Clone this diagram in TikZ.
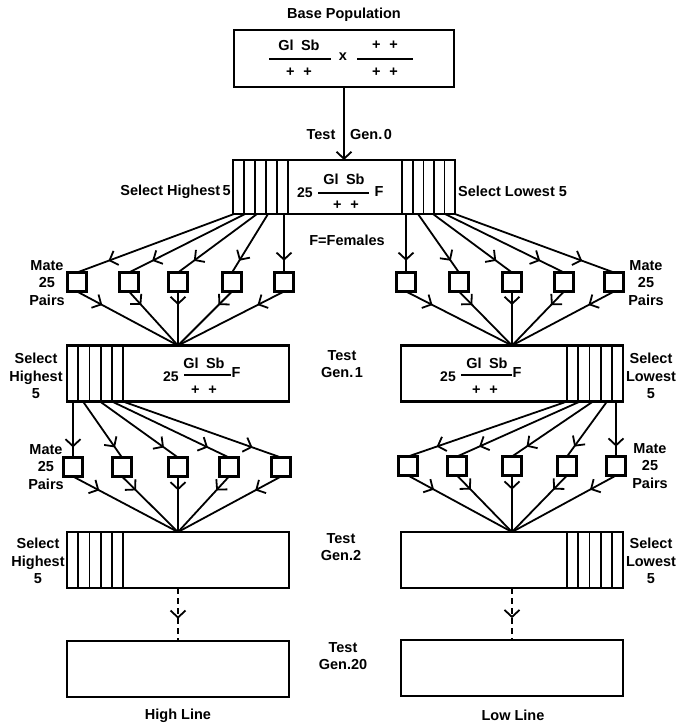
\documentclass[tikz,border=0pt]{standalone}
\usepackage{fontspec}
\setmainfont{Liberation Sans}
\usetikzlibrary{arrows.meta,decorations.markings,calc}
\begin{document}
\begin{tikzpicture}[x=1pt,y=-1pt,
  box/.style={draw,line width=2.2pt,inner sep=0pt,outer sep=0pt,minimum width=222pt,minimum height=56pt},
  sq/.style={draw,line width=2.2pt,minimum width=19pt,minimum height=19pt,inner sep=0pt,outer sep=0pt},
  stripe/.style={line width=1.8pt},
  rule/.style={line width=1.4pt},
  conn/.style={line width=1.8pt},
  mid/.style={conn,postaction={decorate},decoration={markings,mark=at position #1 with {\arrow{Straight Barb[length=7pt,width=15pt,line width=1.8pt]}}}},
  mid/.default=0.5,
  txt/.style={font=\bfseries\fontsize{14.5}{17}\selectfont,inner sep=0pt},
  num/.style={font=\bfseries\fontsize{14}{17}\selectfont,inner sep=0pt},
  lbl/.style={font=\bfseries\fontsize{14.5}{17.5}\selectfont,align=center,inner sep=0pt}
]
\useasboundingbox (0,0) rectangle (679,724);

% ---------- Base population ----------
\node[txt] (basettl) at (344,15) {Base Population};
\node[box,minimum width=220pt,minimum height=57pt] (base) at (344,58.5) {};
\node[txt] (bn1) at (299,45) {Gl\hspace{0.5em}Sb};
\draw[rule] (269,59) -- (331,59);
\node[txt] (bd1) at (299,72) {+\hspace{0.6em}+};
\node[txt] (bx) at (343,57) {x};
\node[txt] (bn2) at (385,45) {+\hspace{0.6em}+};
\draw[rule] (357,59) -- (413,59);
\node[txt] (bd2) at (385,72) {+\hspace{0.6em}+};

% ---------- Gen 0 ----------
\node[box,minimum width=222pt,minimum height=54pt] (g0) at (344,187) {};
\foreach \d in {11,22,33,44,55}{\draw[stripe] ($(g0.north west)+(\d,0)$) -- ($(g0.south west)+(\d,0)$);}
\foreach \d in {10.5,21,31.5,42,53}{\draw[stripe] ($(g0.north east)+(-\d,0)$) -- ($(g0.south east)+(-\d,0)$);}
\draw[conn,-{Straight Barb[length=7pt,width=15pt,line width=1.8pt]}] (base.south) -- (g0.north);
\node[txt] (t0a) at (321,135) {Test};
\node[txt] (t0b) at (371,135) {Gen.\hspace{0.1em}0};
\node[txt] (g0n) at (344,179) {Gl\hspace{0.5em}Sb};
\draw[rule] (318,193) -- (369,193);
\node[txt] (g0d) at (346,205) {+\hspace{0.6em}+};
\node[num] (g0c) at (305,193) {25};
\node[txt] (g0f) at (379,192) {F};
\node[txt,anchor=east] (selH0) at (231,192) {Select Highest\,5};
\node[txt,anchor=west] (selL0) at (458,191) {Select Lowest 5};
\node[txt] (fem) at (347,240) {F=Females};

% ---------- Mate row 1 ----------
\foreach \n/\x in {1/77,2/129,3/178,4/232,5/284}{\node[sq] (a\n) at (\x,282) {};}
\foreach \n/\x in {1/406,2/459,3/512,4/564,5/614}{\node[sq] (b\n) at (\x,282) {};}
\node[lbl] (mateA) at (47,283) {Mate\\25\\Pairs};
\node[lbl] (mateB) at (646,283) {Mate\\25\\Pairs};
\foreach \n/\x in {1/234,2/245,3/257,4/268,5/284}{
  \coordinate (s0a\n) at (\x,214);
  \draw[mid=0.8] (s0a\n) -- (a\n.north);}
\foreach \n/\x in {1/406,2/418,3/433,4/445,5/455}{
  \coordinate (s0b\n) at (\x,214);
  \draw[mid=0.8] (s0b\n) -- (b\n.north);}

% ---------- Gen 1 ----------
\node[box] (g1L) at (178,373.5) {};
\node[box] (g1R) at (512,373.5) {};
\foreach \d in {11.2,22.4,33.6,44.8,56}{
  \draw[stripe] ($(g1L.north west)+(\d,0)$) -- ($(g1L.south west)+(\d,0)$);
  \draw[stripe] ($(g1R.north east)+(-\d,0)$) -- ($(g1R.south east)+(-\d,0)$);}
\foreach \n in {1,...,5}{
  \draw[mid=0.25] (a\n.south) -- (g1L.north);
  \draw[mid=0.25] (b\n.south) -- (g1R.north);}
\node[txt] (g1Ln) at (204,363) {Gl\hspace{0.5em}Sb};
\draw[rule] (184,375) -- (231,375);
\node[txt] (g1Ld) at (204,390) {+\hspace{0.6em}+};
\node[num] (g1Lc) at (171,377) {25};
\node[txt] (g1Lf) at (236,373) {F};
\node[txt] (g1Rn) at (487,363) {Gl\hspace{0.5em}Sb};
\draw[rule] (461,375) -- (512,375);
\node[txt] (g1Rd) at (485,390) {+\hspace{0.6em}+};
\node[num] (g1Rc) at (448,377) {25};
\node[txt] (g1Rf) at (517,373) {F};
\node[lbl] (selH1) at (36,376) {Select\\Highest\\5};
\node[lbl] (selL1) at (651,376) {Select\\Lowest\\5};
\node[lbl] (test1) at (342,364) {Test\\Gen.\hspace{0.1em}1};

% ---------- Mate row 2 ----------
\foreach \n/\x in {1/73,2/122,3/178,4/229,5/281}{\node[sq] (c\n) at (\x,467) {};}
\foreach \n/\x in {1/408,2/457,3/512,4/567,5/616}{\node[sq] (d\n) at (\x,466) {};}
\node[lbl] (mateC) at (46,467) {Mate\\25\\Pairs};
\node[lbl] (mateD) at (650,466) {Mate\\25\\Pairs};
\foreach \n/\x in {1/73,2/83,3/100,4/112,5/123}{
  \coordinate (s1a\n) at (\x,401.5);
  \draw[mid=0.82] (s1a\n) -- (c\n.north);}
\foreach \n/\x in {1/567,2/580,3/593,4/607,5/616}{
  \coordinate (s1b\n) at (\x,401.5);
  \draw[mid=0.82] (s1b\n) -- (d\n.north);}

% ---------- Gen 2 ----------
\node[box] (g2L) at (178,560) {};
\node[box] (g2R) at (512,560) {};
\foreach \d in {11.2,22.4,33.6,44.8,56}{
  \draw[stripe] ($(g2L.north west)+(\d,0)$) -- ($(g2L.south west)+(\d,0)$);
  \draw[stripe] ($(g2R.north east)+(-\d,0)$) -- ($(g2R.south east)+(-\d,0)$);}
\foreach \n in {1,...,5}{
  \draw[mid=0.25] (c\n.south) -- (g2L.north);
  \draw[mid=0.25] (d\n.south) -- (g2R.north);}
\node[lbl] (selH2) at (38,561) {Select\\Highest\\5};
\node[lbl] (selL2) at (651,561) {Select\\Lowest\\5};
\node[lbl] (test2) at (341,547) {Test\\Gen.2};

% ---------- Gen 20 ----------
\node[box] (g20L) at (178,669) {};
\node[box] (g20R) at (512,668) {};
\draw[conn,dash pattern=on 6pt off 4pt,postaction={decorate},decoration={markings,mark=at position 0.58 with {\arrow{Straight Barb[length=7pt,width=15pt,line width=1.8pt]}}}] (g2L.south) -- (g20L.north);
\draw[conn,dash pattern=on 6pt off 4pt,postaction={decorate},decoration={markings,mark=at position 0.58 with {\arrow{Straight Barb[length=7pt,width=15pt,line width=1.8pt]}}}] (g2R.south) -- (g20R.north);
\node[lbl] (test20) at (343,656) {Test\\Gen.20};
\node[txt] (high) at (178,716) {High Line};
\node[txt] (low) at (513,715) {Low Line};
\end{tikzpicture}
\end{document}
